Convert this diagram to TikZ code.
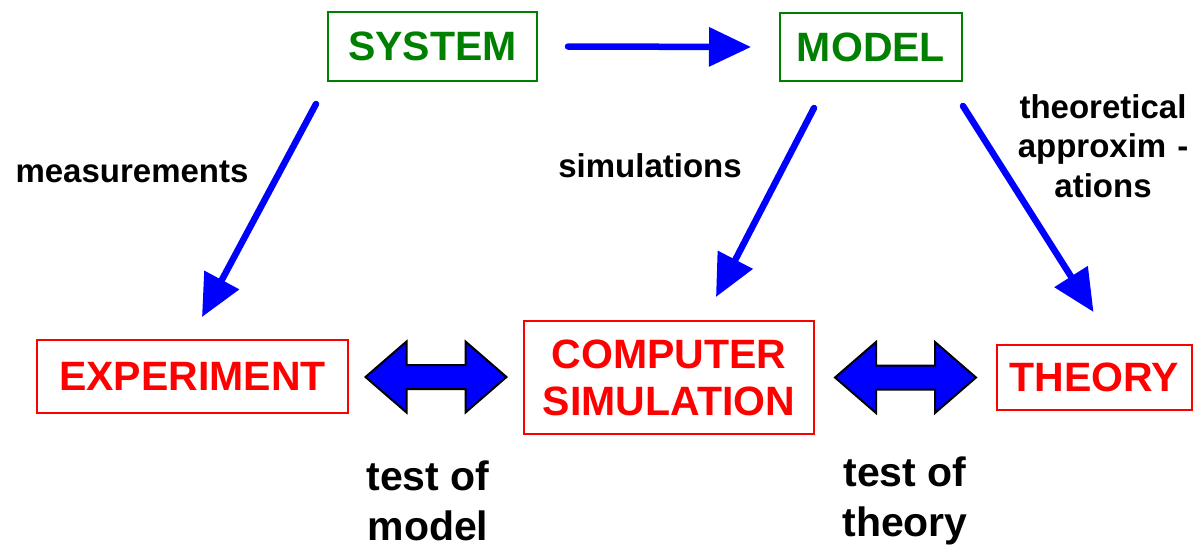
\documentclass[tikz,border=0pt]{standalone}
\usepackage{fontspec}
\setmainfont{Liberation Sans}
\usetikzlibrary{arrows.meta,calc}

\definecolor{sysgreen}{HTML}{008000}

\tikzset{
	greenbox/.style={draw=sysgreen, line width=2pt, text=sysgreen, inner sep=0pt,
		font=\fontsize{41}{48}\selectfont\bfseries},
	redbox/.style={draw=red, line width=2pt, text=red, inner sep=0pt, align=center,
		font=\fontsize{41}{47}\selectfont\bfseries},
	flow/.style={draw=blue, line width=6.5pt, line cap=round,
		-{Triangle[length=42pt,width=38pt]}},
	twoway/.style={fill=blue, draw=black, line width=2pt, line join=miter},
	note/.style={font=\fontsize{33}{39.5}\selectfont\bfseries, align=center},
	bignote/.style={font=\fontsize{41}{50}\selectfont\bfseries, align=center}
}

\begin{document}
\begin{tikzpicture}[x=1pt,y=-1pt]
	\useasboundingbox (0,0) rectangle (1194,549);
	% top row
	\node[greenbox, minimum width=209, minimum height=69] (sys) at (432.5,46.5) {SYSTEM};
	\node[greenbox, minimum width=182, minimum height=68] (model) at (871,47) {MODEL};
	% bottom row
	\node[redbox, minimum width=311, minimum height=73] (exp) at (192.5,376.5) {EXPERIMENT};
	\node[redbox, minimum width=290, minimum height=113] (sim) at (669,377.5) {COMPUTER\\SIMULATION};
	\node[redbox, minimum width=195, minimum height=65] (theory) at (1094.5,377.5) {THEORY};
	% labels
	\node[note] (meas) at (132,172) {measurements};
	\node[note] (simlab) at (650,166) {simulations};
	\node[note] (approx) at (1103,146) {theoretical\\approxim\,\,-\\ations};
	\node[bignote] (tmodel) at (428,501) {test of\\model};
	\node[bignote] (ttheory) at (905,501) {test of\\theory};
	% one-way arrows
	\path
	([shift={(30,0)}]sys.east) edge[flow] ([shift={(-28,0)}]model.west)
	([shift={(-11,22)}]sys.south west) edge[flow] ([shift={(9.5,-22)}]exp.north)
	([shift={(35,26)}]model.south west) edge[flow] ([shift={(47,-23)}]sim.north)
	([shift={(0,24)}]model.south east) edge[flow] ([shift={(-1,-32)}]theory.north);
	% two-way arrows
	\coordinate (d1) at ($(exp.east)!.5!(sim.west)$);
	\coordinate (d2) at ($(sim.east)!.5!(theory.west)$);
	\foreach \c in {d1,d2}
	\draw[twoway, shift={(\c)}] (-70.5,0) -- (-29.5,-35.5) -- (-29.5,-12) -- (29.5,-12)
		-- (29.5,-35.5) -- (70.5,0) -- (29.5,35.5) -- (29.5,12) -- (-29.5,12)
		-- (-29.5,35.5) -- cycle;
\end{tikzpicture}
\end{document}
